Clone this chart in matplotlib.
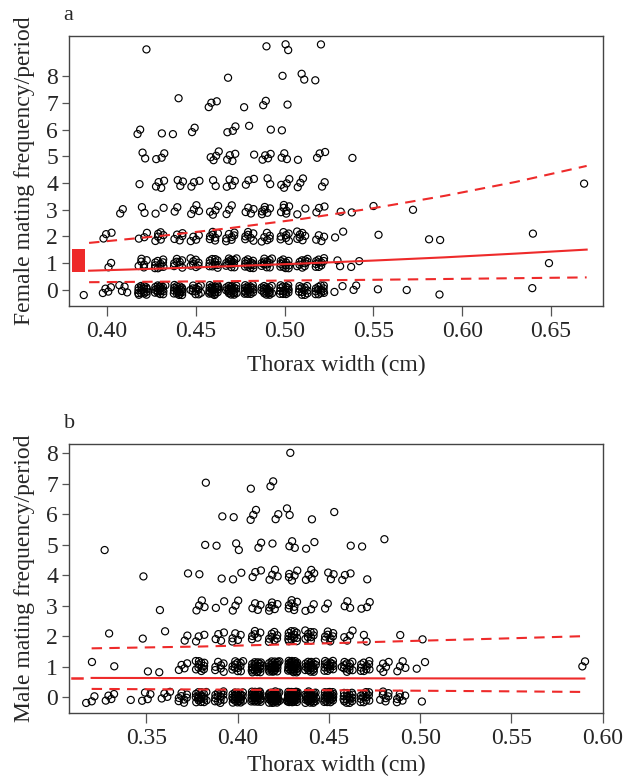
import numpy as np
import matplotlib
matplotlib.use("Agg")
import matplotlib.pyplot as plt
from matplotlib.patches import Rectangle

# ---------------- data ----------------
# counts of individuals per thorax width (rows) and mating frequency 0..9 (columns)
female_widths = [0.39, 0.40, 0.41, 0.42, 0.43, 0.44, 0.45, 0.46, 0.47, 0.48, 0.49,
                 0.50, 0.51, 0.52, 0.53, 0.54, 0.55, 0.57, 0.58, 0.59, 0.64, 0.65, 0.67]
female_counts = [
    [1, 0, 0, 0, 0, 0, 0, 0, 0, 0],
    [4, 2, 3, 0, 0, 0, 0, 0, 0, 0],
    [4, 0, 0, 2, 0, 0, 0, 0, 0, 0],
    [16, 6, 3, 2, 1, 2, 2, 0, 0, 1],
    [17, 10, 6, 2, 4, 3, 1, 0, 0, 0],
    [18, 8, 5, 2, 3, 0, 1, 1, 0, 0],
    [12, 8, 4, 4, 3, 0, 2, 0, 0, 0],
    [20, 11, 7, 4, 2, 4, 0, 3, 0, 0],
    [20, 13, 7, 3, 4, 4, 3, 0, 1, 0],
    [18, 13, 7, 4, 3, 1, 1, 1, 0, 0],
    [17, 12, 6, 6, 2, 4, 1, 2, 0, 1],
    [15, 12, 7, 6, 4, 3, 1, 1, 1, 2],
    [12, 10, 7, 2, 3, 1, 0, 0, 2, 0],
    [13, 10, 4, 3, 2, 3, 0, 0, 1, 1],
    [2, 2, 2, 1, 0, 0, 0, 0, 0, 0],
    [2, 2, 0, 1, 0, 1, 0, 0, 0, 0],
    [1, 0, 1, 1, 0, 0, 0, 0, 0, 0],
    [1, 0, 0, 1, 0, 0, 0, 0, 0, 0],
    [0, 0, 1, 0, 0, 0, 0, 0, 0, 0],
    [1, 0, 1, 0, 0, 0, 0, 0, 0, 0],
    [1, 0, 1, 0, 0, 0, 0, 0, 0, 0],
    [0, 1, 0, 0, 0, 0, 0, 0, 0, 0],
    [0, 0, 0, 0, 1, 0, 0, 0, 0, 0],
]

male_widths = [0.32, 0.33, 0.34, 0.35, 0.36, 0.37, 0.38, 0.39, 0.40, 0.41, 0.42,
               0.43, 0.44, 0.45, 0.46, 0.47, 0.48, 0.49, 0.50, 0.59]
male_counts = [
    [3, 1, 0, 0, 0, 0, 0, 0, 0],
    [4, 1, 1, 0, 0, 1, 0, 0, 0],
    [1, 0, 0, 0, 0, 0, 0, 0, 0],
    [4, 1, 1, 0, 1, 0, 0, 0, 0],
    [4, 1, 1, 1, 0, 0, 0, 0, 0],
    [8, 4, 2, 0, 1, 0, 0, 0, 0],
    [18, 11, 3, 4, 1, 1, 0, 1, 0],
    [13, 7, 4, 2, 1, 1, 1, 0, 0],
    [25, 12, 5, 3, 2, 2, 1, 0, 0],
    [29, 21, 6, 4, 3, 2, 3, 1, 0],
    [35, 25, 8, 6, 4, 1, 2, 2, 0],
    [38, 30, 13, 7, 5, 3, 2, 0, 1],
    [30, 20, 9, 3, 5, 2, 1, 0, 0],
    [24, 15, 8, 2, 3, 0, 1, 0, 0],
    [16, 12, 4, 3, 3, 1, 0, 0, 0],
    [13, 10, 2, 3, 1, 1, 0, 0, 0],
    [7, 5, 0, 0, 0, 1, 0, 0, 0],
    [6, 4, 1, 0, 0, 0, 0, 0, 0],
    [1, 2, 1, 0, 0, 0, 0, 0, 0],
    [0, 2, 0, 0, 0, 0, 0, 0, 0],
]

# fitted curve and confidence band
female_fit_x = [0.39, 0.43, 0.47, 0.51, 0.55, 0.59, 0.63, 0.67]
female_fit = [0.72, 0.80, 0.89, 0.99, 1.10, 1.22, 1.36, 1.51]
female_upper = [1.76, 2.02, 2.32, 2.66, 3.06, 3.52, 4.04, 4.64]
female_lower = [0.29, 0.31, 0.33, 0.36, 0.38, 0.41, 0.44, 0.47]

male_fit_x = [0.32, 0.38, 0.44, 0.50, 0.55, 0.59]
male_fit = [0.63, 0.625, 0.62, 0.615, 0.612, 0.61]
male_upper = [1.60, 1.66, 1.75, 1.85, 1.93, 2.00]
male_lower = [0.27, 0.25, 0.23, 0.21, 0.19, 0.17]

# small red marks at the left of each panel
female_box_x = [0.3803, 0.3876]
female_box_y = [0.67, 1.53]
male_dash_x = [0.3092, 0.3147]
male_dash_y = [0.62, 0.62]

female_xticks = [0.40, 0.45, 0.50, 0.55, 0.60, 0.65]
male_xticks = [0.35, 0.40, 0.45, 0.50, 0.55, 0.60]
yticks = [0, 1, 2, 3, 4, 5, 6, 7, 8]

# ---------------- style ----------------
plt.rcParams['font.family'] = ['Liberation Serif', 'DejaVu Serif']
TXT = '#262626'
RED = '#ee2a2a'

fig = plt.figure(figsize=(6.24, 7.81), dpi=100)
ax_a = fig.add_axes([69 / 624, 1 - 306 / 781, 534 / 624, 270 / 781])
ax_b = fig.add_axes([69 / 624, 1 - 713 / 781, 534 / 624, 269 / 781])


def jittered(widths, counts, jx, jy):
    xs, ys = [], []
    for i, (w, row) in enumerate(zip(widths, counts)):
        for lvl, n in enumerate(row):
            if n == 0:
                continue
            k = np.arange(n)
            s = (i * 0.37 + lvl * 0.53) % 1
            u = (s + k * 0.7548776662) % 1 - 0.5
            v = (s * 1.7 + k * 0.5698402910) % 1 - 0.5
            xs.extend(w + 2 * jx * u)
            ys.extend(lvl + 2 * jy * v)
    return np.array(xs), np.array(ys)


def style(ax, xticks, xlim, ylim, ylabel, letter, xpad):
    ax.set_xlim(*xlim)
    ax.set_ylim(*ylim)
    ax.set_xticks(xticks)
    ax.set_xticklabels(['%.2f' % t for t in xticks])
    ax.set_yticks(yticks)
    ax.tick_params(axis='x', length=7, width=0.9, pad=4, labelsize=17,
                   colors='#555555', labelcolor=TXT)
    ax.tick_params(axis='y', length=5, width=0.9, pad=3, labelsize=17,
                   colors='#555555', labelcolor=TXT)
    for sp in ax.spines.values():
        sp.set_color('#444444')
        sp.set_linewidth(1.0)
    ax.set_xlabel('Thorax width (cm)', fontsize=17, color=TXT, labelpad=xpad)
    ax.set_ylabel(ylabel, fontsize=17, color=TXT, labelpad=8)
    ax.text(-0.01, 1.04, letter, transform=ax.transAxes, fontsize=16,
            color=TXT, ha='left', va='bottom')


# ---- panel a ----
fx, fy = jittered(female_widths, female_counts, 0.003, 0.19)
ax_a.scatter(fx, fy, s=26, facecolors='none', edgecolors='black', linewidths=0.85, zorder=2)
ax_a.plot(female_fit_x, female_fit, color=RED, lw=1.5, zorder=3)
ax_a.plot(female_fit_x, female_upper, color=RED, lw=1.5, ls=(0, (5, 3.5)), zorder=3)
ax_a.plot(female_fit_x, female_lower, color=RED, lw=1.5, ls=(0, (5, 3.5)), zorder=3)
ax_a.add_patch(Rectangle((female_box_x[0], female_box_y[0]),
                         female_box_x[1] - female_box_x[0],
                         female_box_y[1] - female_box_y[0],
                         facecolor=RED, edgecolor='none', zorder=3))
style(ax_a, female_xticks, (0.3787, 0.6792), (-0.6, 9.5),
      'Female mating frequency/period', 'a', 9)

# ---- panel b ----
mx, my = jittered(male_widths, male_counts, 0.003, 0.19)
ax_b.scatter(mx, my, s=26, facecolors='none', edgecolors='black', linewidths=0.85, zorder=2)
ax_b.plot(male_fit_x, male_fit, color=RED, lw=1.5, zorder=3)
ax_b.plot(male_fit_x, male_upper, color=RED, lw=1.5, ls=(0, (5, 3.5)), zorder=3)
ax_b.plot(male_fit_x, male_lower, color=RED, lw=1.5, ls=(0, (5, 3.5)), zorder=3)
ax_b.plot(male_dash_x, male_dash_y, color=RED, lw=1.8, zorder=3)
style(ax_b, male_xticks, (0.3076, 0.6002), (-0.52, 8.3),
      'Male mating frequency/period', 'b', 4)

fig.savefig('out.png', dpi=100)
